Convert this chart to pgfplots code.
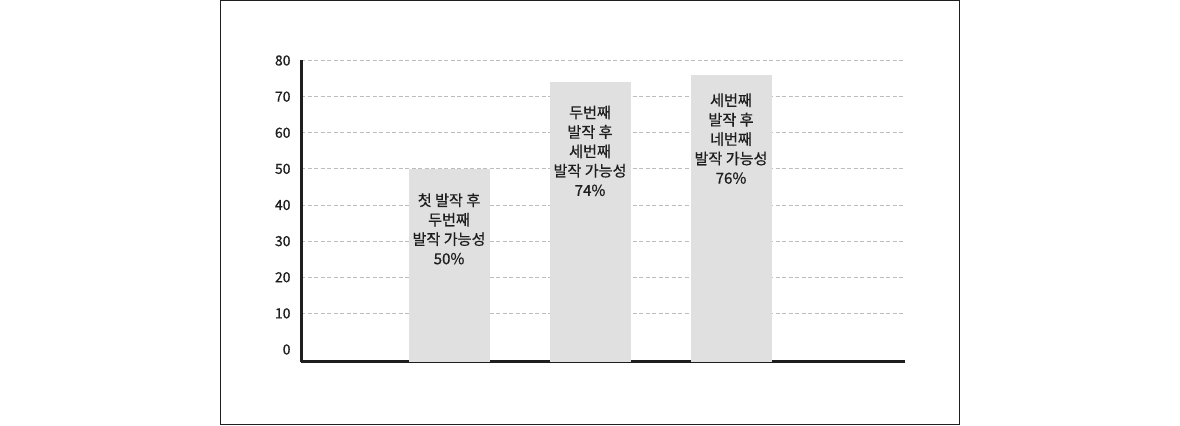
\documentclass[border=0pt]{standalone}
\usepackage{fontspec}
\setmainfont{Noto Sans CJK KR}[FakeBold=0.6]
\usepackage{pgfplots}
\pgfplotsset{compat=1.18}
\definecolor{barfill}{HTML}{E0E0E0}
\definecolor{gridc}{HTML}{BDBDBD}
\definecolor{axc}{HTML}{1E1E1E}
\begin{document}
\begin{tikzpicture}[x=1bp,y=1bp]
\useasboundingbox (0,0) rectangle (1180,425);
\fill[white] (0,0) rectangle (1180,425);
\draw[line width=1bp, axc] (220.5,0.5) rectangle (959.5,424.5);
\coordinate (O) at (301,63.5);
\begin{axis}[
  at={(O)}, anchor=south west,
  scale only axis, width=604bp, height=301bp,
  xmin=-0.05, xmax=4.234, ymin=-3.32, ymax=80,
  axis x line*=bottom, axis y line*=left,
  axis line style={-, line width=3bp, draw=axc},
  xtick=\empty,
  ytick={10,20,...,80},
  extra y ticks={0}, extra y tick style={grid=none},
  ymajorgrids,
  grid style={draw=gridc, line width=0.8bp, dash pattern=on 4bp off 2.5bp},
  major tick length=0pt, tick style={draw=none},
  /pgf/number format/assume math mode=true,
  yticklabel style={font=\fontsize{14}{14}\selectfont, text=axc, xshift=-7bp},
  clip=false,
]
\addplot[ybar, bar width=80bp, bar shift=0pt, fill=barfill, draw=barfill, line width=0.3bp, forget plot]
  coordinates {(1,-3.32) (2,-3.32) (3,-3.32)};
\addplot[ybar, bar width=80bp, bar shift=0pt, fill=barfill, draw=barfill, line width=0.3bp,
  point meta=explicit symbolic, nodes near coords,
  nodes near coords style={anchor=north, yshift=-21bp, align=center, text=axc, font=\fontsize{15.2}{19.5}\selectfont}]
  coordinates {(1,50) [첫 발작 후\\두번째\\발작 가능성\\50\%]};
\addplot[ybar, bar width=80bp, bar shift=0pt, fill=barfill, draw=barfill, line width=0.3bp,
  point meta=explicit symbolic, nodes near coords,
  nodes near coords style={anchor=north, yshift=-20bp, align=center, text=axc, font=\fontsize{15.2}{19.5}\selectfont}]
  coordinates {(2,74) [두번째\\발작 후\\세번째\\발작 가능성\\74\%]};
\addplot[ybar, bar width=80bp, bar shift=0pt, fill=barfill, draw=barfill, line width=0.3bp,
  point meta=explicit symbolic, nodes near coords,
  nodes near coords style={anchor=north, yshift=-15bp, align=center, text=axc, font=\fontsize{15.2}{19.5}\selectfont}]
  coordinates {(3,76) [세번째\\발작 후\\네번째\\발작 가능성\\76\%]};
\end{axis}
\end{tikzpicture}
\end{document}
